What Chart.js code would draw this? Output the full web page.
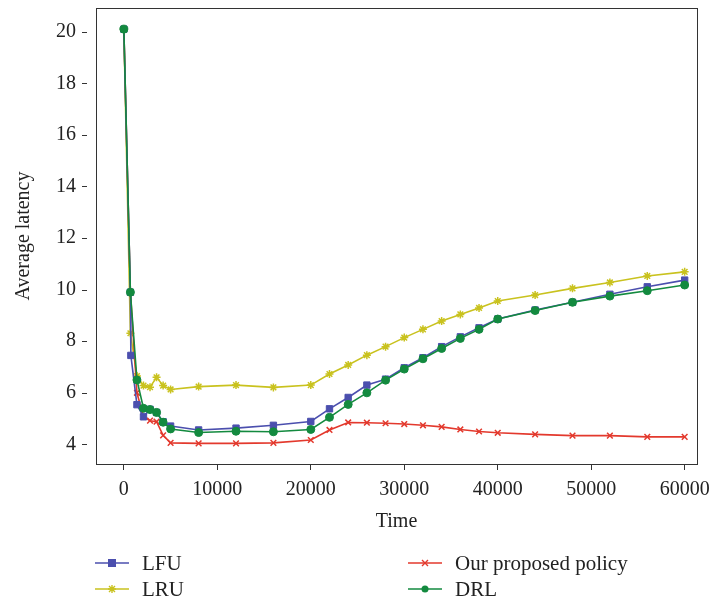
<!DOCTYPE html>
<html>
<head>
<meta charset="utf-8">
<script src="https://cdn.jsdelivr.net/npm/chart.js@4.4.1/dist/chart.umd.min.js"></script>
<style>
    html, body { margin: 0; padding: 0; background: #fff; }
    #wrap { position: relative; width: 709px; height: 601px; }
    #legend { position: absolute; left: 0; top: 0; width: 709px; height: 601px; pointer-events: none;
        font-family: "Liberation Serif", "DejaVu Serif", serif; font-size: 21px; color: #222; }
    .item { position: absolute; display: flex; align-items: center; height: 24px; }
    .item svg { margin-right: 13px; }
</style>
</head>
<body>
<div id="wrap">
    <canvas id="chart" width="709" height="601"></canvas>
    <div id="legend"></div>
</div>
<script>
// Time steps shared by most series
const time = [0, 700, 1400, 2100, 2800, 3500, 4200, 5000, 8000, 12000, 16000, 20000,
    22000, 24000, 26000, 28000, 30000, 32000, 34000, 36000, 38000, 40000,
    44000, 48000, 52000, 56000, 60000];

// LFU has one extra early sample
const lfuTime = [0, 700, 750, 1400, 2100, 2800, 3500, 4200, 5000, 8000, 12000, 16000, 20000,
    22000, 24000, 26000, 28000, 30000, 32000, 34000, 36000, 38000, 40000,
    44000, 48000, 52000, 56000, 60000];

const lfu = [20.1, 9.9, 7.45, 5.54, 5.07, 5.36, 5.24, 4.88, 4.71, 4.56, 4.63, 4.74, 4.89,
    5.38, 5.82, 6.30, 6.53, 6.97, 7.36, 7.79, 8.17, 8.52, 8.86,
    9.21, 9.51, 9.82, 10.11, 10.37];
const lru = [20.1, 8.31, 6.65, 6.28, 6.22, 6.60, 6.28, 6.13, 6.24, 6.30, 6.21, 6.30,
    6.73, 7.08, 7.46, 7.79, 8.14, 8.46, 8.78, 9.04, 9.29, 9.56,
    9.79, 10.05, 10.28, 10.53, 10.69];
const proposed = [20.1, 9.9, 6.0, 5.07, 4.92, 4.88, 4.35, 4.06, 4.04, 4.04, 4.06, 4.17,
    4.56, 4.85, 4.84, 4.82, 4.79, 4.74, 4.68, 4.58, 4.50, 4.45,
    4.39, 4.34, 4.34, 4.29, 4.29];
const drl = [20.1, 9.9, 6.5, 5.40, 5.35, 5.24, 4.86, 4.60, 4.46, 4.51, 4.49, 4.58,
    5.05, 5.55, 6.00, 6.49, 6.92, 7.32, 7.72, 8.11, 8.46, 8.86,
    9.19, 9.51, 9.75, 9.96, 10.18];

const xTicks = [0, 10000, 20000, 30000, 40000, 50000, 60000];
const yTicks = [4, 6, 8, 10, 12, 14, 16, 18, 20];

const FONT = '"Liberation Serif", "DejaVu Serif", serif';
const INK = '#222';

function pairs(xs, ys) {
    return ys.map((y, i) => ({ x: xs[i], y: y }));
}

// series look, also used for the legend
const series = [
    { label: 'LFU', xs: lfuTime, ys: lfu, color: '#4b4fae', point: 'rect', radius: 4.5, order: 1 },
    { label: 'LRU', xs: time, ys: lru, color: '#c9c21e', point: 'star', radius: 4, order: 3 },
    { label: 'Our proposed policy', xs: time, ys: proposed, color: '#e3392d', point: 'crossRot', radius: 4, order: 2 },
    { label: 'DRL', xs: time, ys: drl, color: '#138a3f', point: 'circle', radius: 4, order: 0 },
];

// frame around the plot plus y tick marks that sit a bit off the frame
const framePlugin = {
    id: 'frame',
    afterDraw(chart) {
        const { ctx, chartArea: a, scales } = chart;
        ctx.save();
        ctx.strokeStyle = '#333';
        ctx.lineWidth = 1;
        ctx.strokeRect(a.left + 0.5, a.top + 0.5, a.right - a.left, a.bottom - a.top);
        ctx.beginPath();
        yTicks.forEach(v => {
            const y = Math.round(scales.y.getPixelForValue(v)) + 0.5;
            ctx.moveTo(a.left - 14, y);
            ctx.lineTo(a.left - 9, y);
        });
        ctx.stroke();
        ctx.restore();
    }
};

new Chart(document.getElementById('chart'), {
    type: 'line',
    data: {
        datasets: series.map(s => ({
            label: s.label,
            data: pairs(s.xs, s.ys),
            borderColor: s.color,
            backgroundColor: s.color,
            pointStyle: s.point,
            pointRadius: s.radius,
            pointBorderWidth: s.point === 'crossRot' || s.point === 'star' ? 1.5 : 1,
            borderWidth: 1.6,
            tension: 0,
            fill: false,
            order: s.order,
        }))
    },
    options: {
        responsive: false,
        animation: false,
        layout: { padding: { left: 8, top: 8, right: 12, bottom: 67 } },
        plugins: {
            legend: { display: false },
            tooltip: { enabled: false },
        },
        scales: {
            x: {
                type: 'linear',
                min: -2980,
                max: 61320,
                afterBuildTicks: s => { s.ticks = xTicks.map(v => ({ value: v })); },
                afterFit: s => { s.height = 70; s.paddingLeft = 0; s.paddingRight = 0; },
                grid: { drawOnChartArea: false, tickLength: 6, color: '#333' },
                border: { display: false },
                ticks: {
                    autoSkip: false, maxRotation: 0, padding: 8,
                    color: INK, font: { family: FONT, size: 20 },
                    callback: v => String(v),
                },
                title: {
                    display: true, text: 'Time', padding: 0,
                    color: INK, font: { family: FONT, size: 20 },
                },
            },
            y: {
                min: 3.24,
                max: 20.92,
                afterBuildTicks: s => { s.ticks = yTicks.map(v => ({ value: v })); },
                afterFit: s => { s.width = 88; s.paddingTop = 0; s.paddingBottom = 0; },
                grid: { display: false, drawTicks: false },
                border: { display: false },
                ticks: {
                    padding: 20,
                    color: INK, font: { family: FONT, size: 20 },
                    callback: v => String(v),
                },
                title: {
                    display: true, text: 'Average latency', padding: { top: 4, bottom: 0 },
                    color: INK, font: { family: FONT, size: 20 },
                },
            },
        },
    },
    plugins: [framePlugin],
});

// legend in two columns under the plot
const legendPos = [
    { left: 95, top: 551 },
    { left: 95, top: 577 },
    { left: 408, top: 551 },
    { left: 408, top: 577 },
];

function icon(s) {
    const c = s.color;
    let mark = '';
    if (s.point === 'rect') mark = `<rect x="13" y="2" width="8" height="8" fill="${c}"/>`;
    if (s.point === 'circle') mark = `<circle cx="17" cy="6" r="3.5" fill="${c}"/>`;
    if (s.point === 'crossRot') mark = `<path d="M14 3 L20 9 M20 3 L14 9" stroke="${c}" stroke-width="1.4"/>`;
    if (s.point === 'star') mark = `<path d="M17 2 L17 10 M13 6 L21 6 M14 3 L20 9 M20 3 L14 9" stroke="${c}" stroke-width="1.4"/>`;
    return `<svg width="34" height="12"><line x1="0" y1="6" x2="34" y2="6" stroke="${c}" stroke-width="1.6"/>${mark}</svg>`;
}

const legend = document.getElementById('legend');
series.forEach((s, i) => {
    const el = document.createElement('div');
    el.className = 'item';
    el.style.left = legendPos[i].left + 'px';
    el.style.top = legendPos[i].top + 'px';
    el.innerHTML = icon(s) + '<span>' + s.label + '</span>';
    legend.appendChild(el);
});
</script>
</body>
</html>
